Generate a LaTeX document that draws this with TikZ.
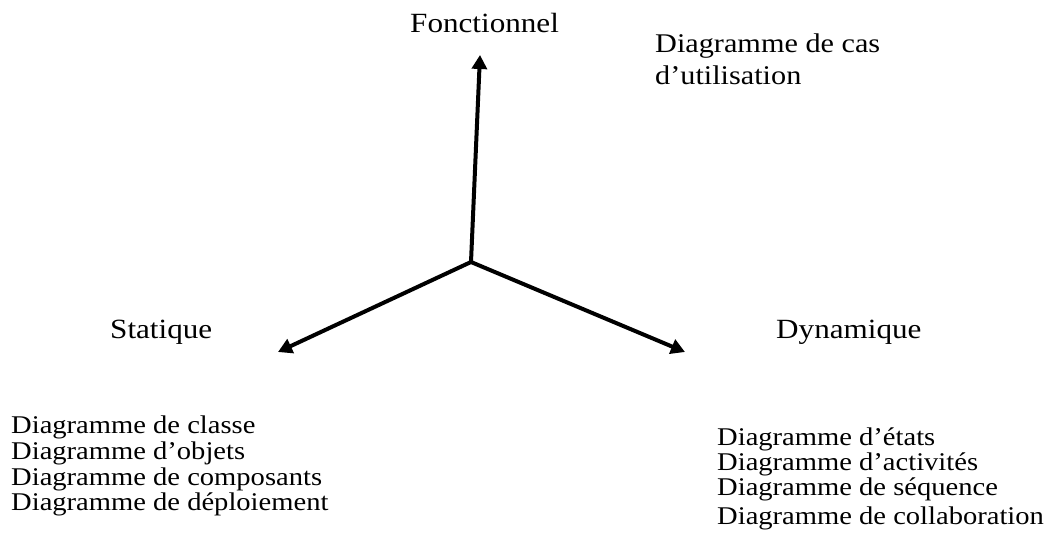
\documentclass[tikz,border=0pt]{standalone}
\usepackage{fontspec}
\setmainfont[FakeStretch=1.12]{Liberation Serif}
\usetikzlibrary{arrows.meta}
\tikzset{
  axis/.style={line width=4pt,-{Triangle[length=14pt,width=15pt]}},
  head/.style={anchor=base west,inner sep=0pt,font=\fontsize{27.8pt}{30pt}\selectfont},
  item/.style={anchor=base west,inner sep=0pt,font=\fontsize{25.5pt}{28pt}\selectfont},
}
\begin{document}
\begin{tikzpicture}[x=1pt,y=-1pt]
\useasboundingbox (0,0) rectangle (1050,548);
\coordinate (o) at (471,262);
\coordinate (tf) at (480,55);
\coordinate (ts) at (278,352);
\coordinate (td) at (685,352);
\draw[axis] (o) -- (tf);
\draw[axis] (o) -- (ts);
\draw[axis] (o) -- (td);
\node[head] (fonc) at (410,33) {Fonctionnel};
\node[head] (stat) at (110,338) {Statique};
\node[head] (dyn) at (776,338) {Dynamique};
\node[item,font=\fontsize{27pt}{30pt}\selectfont] (cas1) at (655,53) {Diagramme de cas};
\node[item,font=\fontsize{27pt}{30pt}\selectfont] (cas2) at (655,85) {d’utilisation};
\node[item] (s1) at (11,433) {Diagramme de classe};
\node[item] (s2) at (11,459) {Diagramme d’objets};
\node[item] (s3) at (11,485) {Diagramme de composants};
\node[item] (s4) at (11,510) {Diagramme de déploiement};
\node[item] (d1) at (717,445) {Diagramme d’états};
\node[item] (d2) at (717,470) {Diagramme d’activités};
\node[item] (d3) at (717,495) {Diagramme de séquence};
\node[item] (d4) at (717,524) {Diagramme de collaboration};
\end{tikzpicture}
\end{document}
